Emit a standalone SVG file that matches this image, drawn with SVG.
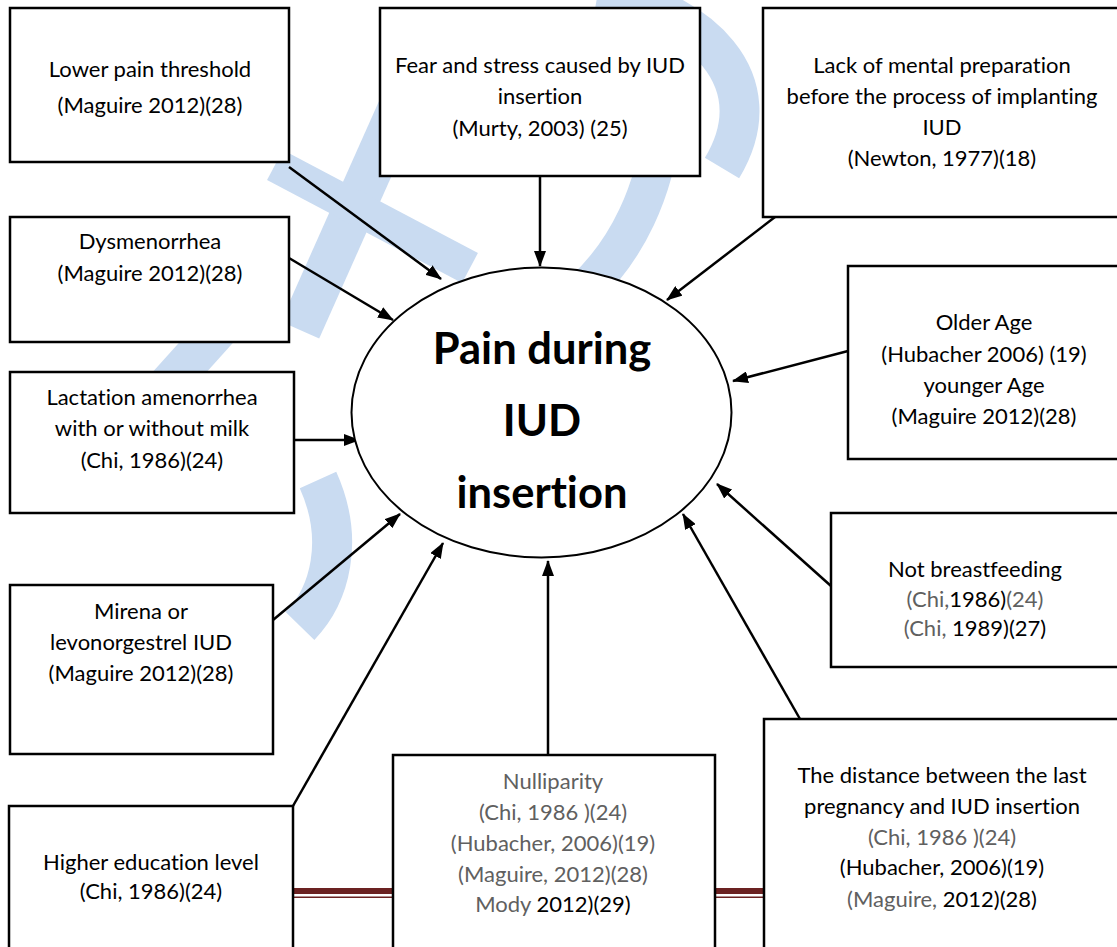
<svg xmlns="http://www.w3.org/2000/svg" width="1117" height="947" viewBox="0 0 1117 947">
<defs>
<marker id="ah" markerUnits="userSpaceOnUse" markerWidth="16" markerHeight="12" refX="15" refY="6" orient="auto"><path d="M0,0 L16,6 L0,12 z" fill="#000"/></marker>
</defs>
<style>
.box{fill:#fff;stroke:#000;stroke-width:2.5}
.t{font-family:Lato,"Open Sans",sans-serif;font-size:22px;fill:#000;text-anchor:middle;font-variant-ligatures:none}
.g{fill:#606060}
.k{fill:#000}
.c{stroke:#000;stroke-width:2.5;fill:none;marker-end:url(#ah)}
.wm{fill:none;stroke:#c9dbf1}
.dl{fill:#6b2222}
.title{font-family:Lato,sans-serif;font-weight:bold;font-size:43.5px;text-anchor:middle;fill:#000;font-variant-ligatures:none}
</style>
<rect x="0" y="0" width="1117" height="947" fill="#fff"/>
<g id="watermark">
<path class="wm" d="M398,110 L300,330" stroke-width="42"/>
<path class="wm" d="M222,325 L150,405" stroke-width="40"/>
<path class="wm" d="M275,165 L470,268" stroke-width="34"/>
<path class="wm" d="M598,-8 C700,10 775,80 722,168" stroke-width="40"/>
<path class="wm" d="M662,125 C655,190 628,250 582,292" stroke-width="38"/>
<path class="wm" d="M318,480 C345,540 330,595 300,626" stroke-width="40"/>
</g>
<g id="connectors">
<path class="c" d="M289,167 L441,279"/>
<path class="c" d="M540,176 L540,266"/>
<path class="c" d="M775,217 L667,300"/>
<path class="c" d="M289,258 L393,320"/>
<path class="c" d="M294,440 L359,440"/>
<path class="c" d="M273,620 L400,514"/>
<path class="c" d="M293,806 L443,543"/>
<path class="c" d="M548,755 L548,561"/>
<path class="c" d="M800,719 L683,514"/>
<path class="c" d="M831,586 L717,484"/>
<path class="c" d="M848,351 L733,381"/>
<rect class="dl" x="293" y="888" width="100" height="6"/>
<rect class="dl" x="293" y="896.5" width="100" height="1.5"/>
<rect class="dl" x="715" y="888" width="49" height="6"/>
<rect class="dl" x="715" y="896.5" width="49" height="1.5"/>
</g>
<g id="center">
<ellipse cx="541.5" cy="412.5" rx="190" ry="145" fill="#fff" stroke="#000" stroke-width="2"/>
<text class="title" x="542" y="364">Pain during</text>
<text class="title" x="542" y="436">IUD</text>
<text class="title" x="542" y="508">insertion</text>
</g>
<g id="n-lower-pain">
<rect class="box" x="10" y="8" width="279" height="154"/>
<text class="t" x="150" y="77">Lower pain threshold</text>
<text class="t" x="150" y="113">(Maguire 2012)(28)</text>
</g>
<g id="n-fear">
<rect class="box" x="380" y="8" width="320" height="168"/>
<text class="t" x="540" y="73">Fear and stress caused by IUD</text>
<text class="t" x="540" y="104">insertion</text>
<text class="t" x="540" y="136">(Murty, 2003) (25)</text>
</g>
<g id="n-lack">
<rect class="box" x="763" y="8" width="370" height="209"/>
<text class="t" x="942" y="73">Lack of mental preparation</text>
<text class="t" x="942" y="104">before the process of implanting</text>
<text class="t" x="942" y="135">IUD</text>
<text class="t" x="942" y="166">(Newton, 1977)(18)</text>
</g>
<g id="n-dysmenorrhea">
<rect class="box" x="10" y="217" width="279" height="125"/>
<text class="t" x="150" y="249">Dysmenorrhea</text>
<text class="t" x="150" y="281">(Maguire 2012)(28)</text>
</g>
<g id="n-lactation">
<rect class="box" x="10" y="372" width="284" height="141"/>
<text class="t" x="152" y="405">Lactation amenorrhea</text>
<text class="t" x="152" y="436">with or without milk</text>
<text class="t" x="152" y="468">(Chi, 1986)(24)</text>
</g>
<g id="n-mirena">
<rect class="box" x="10" y="585" width="263" height="169"/>
<text class="t" x="141" y="619">Mirena or</text>
<text class="t" x="141" y="650">levonorgestrel IUD</text>
<text class="t" x="141" y="681">(Maguire 2012)(28)</text>
</g>
<g id="n-education">
<rect class="box" x="9" y="806" width="284" height="160"/>
<text class="t" x="151" y="870">Higher education level</text>
<text class="t" x="151" y="899">(Chi, 1986)(24)</text>
</g>
<g id="n-nulliparity">
<rect class="box" x="393" y="755" width="322" height="210"/>
<text class="t g" x="553" y="789">Nulliparity</text>
<text class="t g" x="553" y="820">(Chi, 1986 )(24)</text>
<text class="t g" x="553" y="851">(Hubacher, 2006)(19)</text>
<text class="t g" x="553" y="882">(Maguire, 2012)(28)</text>
<text class="t" x="553" y="912"><tspan class="g">Mody </tspan><tspan class="k">2012)(29)</tspan></text>
</g>
<g id="n-distance">
<rect class="box" x="764" y="719" width="370" height="250"/>
<text class="t" x="942" y="783">The distance between the last</text>
<text class="t" x="942" y="814">pregnancy and IUD insertion</text>
<text class="t g" x="942" y="845">(Chi, 1986 )(24)</text>
<text class="t" x="942" y="875">(Hubacher, 2006)(19)</text>
<text class="t" x="942" y="907"><tspan class="g">(Maguire, </tspan><tspan class="k">2012)(28)</tspan></text>
</g>
<g id="n-breastfeeding">
<rect class="box" x="831" y="513" width="300" height="154"/>
<text class="t" x="975" y="577">Not breastfeeding</text>
<text class="t" x="975" y="607"><tspan class="g">(Chi,</tspan><tspan class="k">1986)</tspan><tspan class="g">(24)</tspan></text>
<text class="t" x="975" y="636"><tspan class="g">(Chi, </tspan><tspan class="k">1989)(27)</tspan></text>
</g>
<g id="n-age">
<rect class="box" x="848" y="266" width="280" height="193"/>
<text class="t" x="984" y="330">Older Age</text>
<text class="t" x="984" y="362">(Hubacher 2006) (19)</text>
<text class="t" x="984" y="393">younger Age</text>
<text class="t" x="984" y="424">(Maguire 2012)(28)</text>
</g>
</svg>
